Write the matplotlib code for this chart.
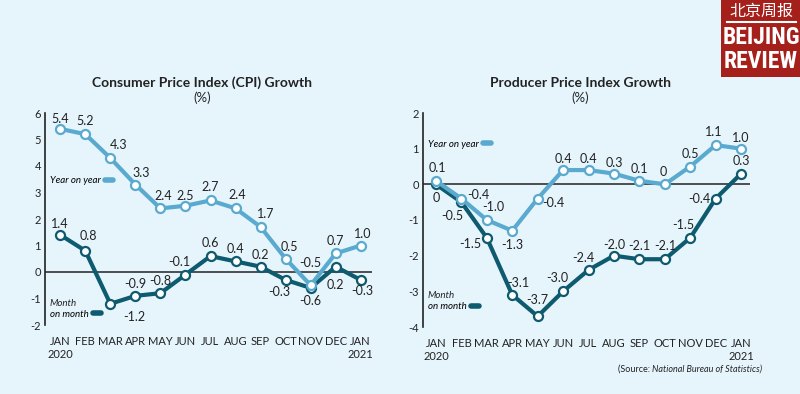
import numpy as np
import matplotlib.pyplot as plt
from matplotlib.lines import Line2D
from matplotlib.patches import Rectangle
from matplotlib import font_manager

plt.rcParams['font.family'] = ['Lato', 'DejaVu Sans']

months = ['JAN\n2020', 'FEB', 'MAR', 'APR', 'MAY', 'JUN', 'JUL', 'AUG', 'SEP',
          'OCT', 'NOV', 'DEC', 'JAN\n2021']

cpi_yoy = [5.4, 5.2, 4.3, 3.3, 2.4, 2.5, 2.7, 2.4, 1.7, 0.5, -0.5, 0.7, 1.0]
cpi_mom = [1.4, 0.8, -1.2, -0.9, -0.8, -0.1, 0.6, 0.4, 0.2, -0.3, -0.6, 0.2, -0.3]
ppi_yoy = [0.1, -0.4, -1.0, -1.3, -0.4, 0.4, 0.4, 0.3, 0.1, 0, 0.5, 1.1, 1.0]
ppi_mom = [0, -0.5, -1.5, -3.1, -3.7, -3.0, -2.4, -2.0, -2.1, -2.1, -1.5, -0.4, 0.3]

# label text as printed on the chart
cpi_yoy_txt = ['5.4', '5.2', '4.3', '3.3', '2.4', '2.5', '2.7', '2.4', '1.7', '0.5', '-0.5', '0.7', '1.0']
cpi_mom_txt = ['1.4', '0.8', '-1.2', '-0.9', '-0.8', '-0.1', '0.6', '0.4', '0.2', '-0.3', '-0.6', '0.2', '-0.3']
ppi_yoy_txt = ['0.1', '-0.4', '-1.0', '-1.3', '-0.4', '0.4', '0.4', '0.3', '0.1', '0', '0.5', '1.1', '1.0']
ppi_mom_txt = ['0', '-0.5', '-1.5', '-3.1', '-3.7', '-3.0', '-2.4', '-2.0', '-2.1', '-2.1', '-1.5', '-0.4', '0.3']

# label offsets in pixels (dx, dy)
cpi_yoy_off = [(0, 10), (0, 13), (8, 13), (6, 12), (3, 12), (0, 10), (0, 13), (2, 13),
               (5, 13), (4, 12), (0, 22), (0, 12), (2, 11)]
cpi_mom_off = [(0, 11), (3, 15), (24, -13), (0, 12), (0, 12), (-6, 13), (0, 13), (0, 12),
               (0, 12), (-6, -12), (0, -13), (0, -18), (2, -11)]
ppi_yoy_off = [(1, 13), (17, 4), (6, 13), (0, -14), (16, -4), (0, 11), (0, 11), (0, 11),
               (0, 12), (-2, 12), (0, 12), (-2, 13), (0, 11)]
ppi_mom_off = [(0, -14), (-9, -14), (-17, -6), (6, 12), (0, 16), (-6, 13), (-5, 12), (0, 11),
               (0, 13), (0, 13), (-7, 13), (-16, 0), (0, 13)]

bg = '#e6f5fc'
light = '#5aaad0'
dark = '#0e5a6e'
ink = '#222222'

fig = plt.figure(figsize=(8, 3.94), dpi=100, facecolor=bg)


def panel(rect, yoy, mom, yoy_txt, mom_txt, yoy_off, mom_off, ylim, xlim,
          leg1_pos, leg2_pos):
    ax = fig.add_axes(rect)
    ax.set_facecolor('none')
    x = np.arange(len(months))
    ax.axhline(0, color=ink, lw=1.1, zorder=1)
    ax.plot(x, mom, color=dark, lw=3, marker='o', ms=6.5, mfc='white', mec=dark,
            mew=1.6, zorder=3, solid_capstyle='round')
    ax.plot(x, yoy, color=light, lw=3, marker='o', ms=6.5, mfc='white', mec=light,
            mew=1.6, zorder=4, solid_capstyle='round')
    for xi, v, t, o in zip(x, yoy, yoy_txt, yoy_off):
        ax.annotate(t, (xi, v), xytext=o, textcoords='offset pixels', ha='center',
                    va='center', fontsize=9, color=ink)
    for xi, v, t, o in zip(x, mom, mom_txt, mom_off):
        ax.annotate(t, (xi, v), xytext=o, textcoords='offset pixels', ha='center',
                    va='center', fontsize=9, color=ink)
    ax.set_xlim(*xlim)
    ax.set_ylim(*ylim)
    ax.set_yticks(np.arange(ylim[0], ylim[1] + 1))
    ax.set_yticklabels([str(v) for v in range(ylim[0], ylim[1] + 1)])
    ax.set_xticks(x)
    ax.set_xticklabels(months, linespacing=1.25, va='top')
    ax.tick_params(length=0, labelsize=8, colors=ink, pad=8)
    ax.tick_params(axis='y', pad=3)
    for s in ['top', 'right', 'bottom']:
        ax.spines[s].set_visible(False)
    ax.spines['left'].set_color(ink)
    ax.spines['left'].set_linewidth(1.2)

    h1 = [Line2D([], [], color=light, lw=4, solid_capstyle='round')]
    h2 = [Line2D([], [], color=dark, lw=4, solid_capstyle='round')]
    leg_kw = dict(loc='center left', markerfirst=False, frameon=False, handlelength=0.9,
                  handletextpad=0.4, borderpad=0, borderaxespad=0,
                  prop={'style': 'italic', 'size': 7})
    l1 = ax.legend(h1, ['Year on year'], bbox_to_anchor=leg1_pos, **leg_kw)
    ax.add_artist(l1)
    ax.legend(h2, ['on month'], bbox_to_anchor=leg2_pos, **leg_kw)
    ax.annotate('Month', leg2_pos, xycoords='axes fraction', xytext=(0, 11),
                textcoords='offset pixels', style='italic', fontsize=7, color=ink,
                ha='left', va='center')
    return ax


ax1 = panel([45 / 800, 69 / 394, 327 / 800, 212 / 394], cpi_yoy, cpi_mom, cpi_yoy_txt,
            cpi_mom_txt, cpi_yoy_off, cpi_mom_off, (-2, 6), (-0.61, 12.45),
            (0.015, 0.68), (0.015, 0.05))
ax2 = panel([423 / 800, 67 / 394, 327 / 800, 214 / 394], ppi_yoy, ppi_mom, ppi_yoy_txt,
            ppi_mom_txt, ppi_yoy_off, ppi_mom_off, (-4, 2), (-0.51, 12.35),
            (0.015, 0.855), (0.015, 0.095))

fig.text(202 / 800, 1 - 83 / 394, 'Consumer Price Index (CPI) Growth', ha='center',
         va='center', fontsize=10, fontweight='bold', color=ink)
fig.text(202 / 800, 1 - 98 / 394, '(%)', ha='center', va='center', fontsize=9.5,
         color=ink)
fig.text(580 / 800, 1 - 83 / 394, 'Producer Price Index Growth', ha='center',
         va='center', fontsize=10, fontweight='bold', color=ink)
fig.text(580 / 800, 1 - 98 / 394, '(%)', ha='center', va='center', fontsize=9.5,
         color=ink)

# source note
src = fig.text(762 / 800, 1 - 369 / 394, 'National Bureau of Statistics)', ha='right',
               va='center', fontsize=6.5, style='italic', color=ink)
fig.canvas.draw()
bb = src.get_window_extent()
fig.text(bb.x0 / 800, 1 - 369 / 394, '(Source: ', ha='right', va='center',
         fontsize=6.5, color=ink)

# Beijing Review logo
names = {f.name for f in font_manager.fontManager.ttflist}
narrow = None
for cand in ['Liberation Sans Narrow', 'Roboto Condensed', 'DejaVu Sans Condensed']:
    if cand in names:
        narrow = cand
        break
if narrow:
    logo_font = dict(family=[narrow], fontsize=17)
else:
    logo_font = dict(family=['Roboto', 'DejaVu Sans'], fontsize=13.5)

fig.patches.append(Rectangle((721 / 800, 1 - 77 / 394), 79 / 800, 77 / 394,
                             transform=fig.transFigure, facecolor='#a51f1b',
                             edgecolor='none', zorder=5))
fig.text(761 / 800, 1 - 11 / 394, '北京周报', ha='center', va='center', fontsize=11.5,
         color='white', family=['Noto Sans CJK SC', 'DejaVu Sans'], zorder=6)
fig.lines.append(Line2D([727 / 800, 796 / 800], [1 - 22 / 394, 1 - 22 / 394],
                        transform=fig.transFigure, color='white', lw=1.5, zorder=6))
fig.text(761 / 800, 1 - 38 / 394, 'BEIJING', ha='center', va='center',
         fontweight='bold', color='white', zorder=6, **logo_font)
fig.text(761 / 800, 1 - 61 / 394, 'REVIEW', ha='center', va='center',
         fontweight='bold', color='white', zorder=6, **logo_font)

fig.savefig('out.png', dpi=100, facecolor=bg)
